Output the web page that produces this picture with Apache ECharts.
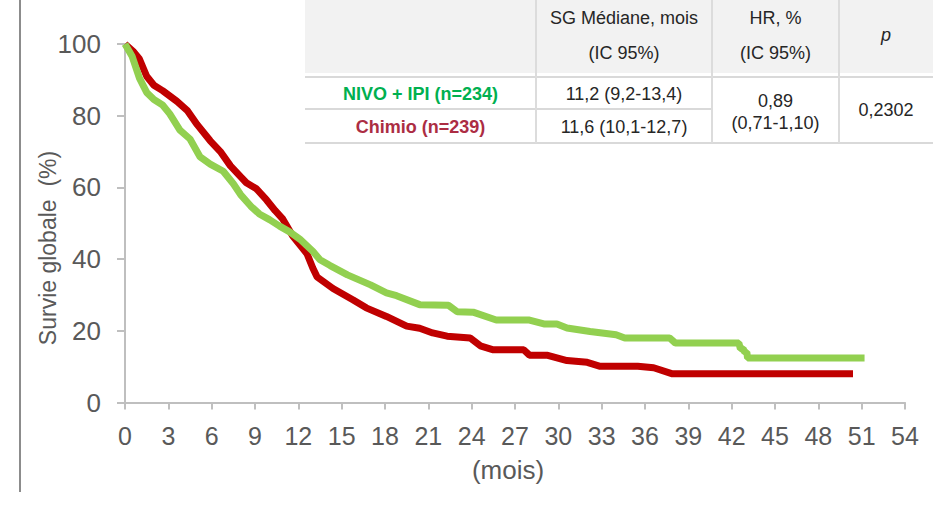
<!DOCTYPE html>
<html>
<head>
<meta charset="utf-8">
<script src="https://cdn.jsdelivr.net/npm/echarts@6/dist/echarts.min.js"></script>
<style>
  html, body { margin: 0; padding: 0; background: #ffffff; }
  #chart { width: 933px; height: 508px; }
</style>
</head>
<body>
<div id="chart"></div>
<script>
// Overall survival (%) by month, one [month, survival] pair per point
const nivoIpi = [
  [0, 100], [0.5, 96.5], [1.0, 90.5], [1.5, 86.5], [2.0, 84.5], [2.6, 83], [3.1, 80.5],
  [3.8, 76], [4.5, 73.5], [5.2, 68.5], [5.9, 66.5], [6.8, 64.5], [7.5, 61], [8.0, 58],
  [8.7, 54.8], [9.3, 52.6], [10.0, 51], [10.7, 49.2], [11.4, 47.6], [12.1, 45.6],
  [13.0, 42.2], [13.5, 39.8], [14.2, 38.2], [15.4, 35.6], [17.0, 32.8], [18.1, 30.6],
  [18.8, 29.8], [20.4, 27.3], [22.4, 27.1], [23.0, 25.3], [24.1, 25.2], [25.7, 23],
  [28.0, 23], [29.0, 21.9], [29.9, 21.9], [30.6, 20.8], [32.2, 19.8], [34.0, 18.9],
  [34.6, 18], [37.7, 18], [38.1, 16.6], [42.5, 16.6], [42.6, 15], [42.8, 15],
  [42.9, 14], [43.05, 14], [43.1, 12.4], [51.2, 12.4]
];

const chimio = [
  [0, 100], [0.6, 97.8], [1.0, 95.8], [1.5, 91], [2.0, 88.5], [2.6, 87], [3.6, 84],
  [4.3, 81.5], [5.0, 77.5], [5.9, 73], [6.6, 70], [7.3, 66], [8.0, 63], [8.4, 61.3],
  [9.1, 59.6], [9.8, 56.5], [10.4, 53.5], [10.9, 51.3], [11.6, 46.5], [12.3, 43],
  [12.6, 41.5], [13.0, 37.5], [13.3, 35], [14.4, 31.8], [15.8, 28.6], [16.7, 26.4],
  [18.1, 24], [19.5, 21.3], [20.4, 20.7], [21.3, 19.4], [22.3, 18.5], [23.9, 18],
  [24.6, 15.8], [25.5, 14.7], [27.6, 14.7], [28.0, 13.2], [29.2, 13.2], [30.6, 11.7],
  [32.0, 11.2], [32.9, 10.1], [35.5, 10.1], [36.6, 9.7], [37.9, 8], [50.4, 8]
];

// Axis ticks and titles
const monthTicks = [0, 54, 3];    // min, max, step
const survivalTicks = [0, 100, 20];
const monthTitle = '(mois)';
const survivalTitle = 'Survie globale  (%)';

// Summary table text
const tableHeader = [
  ['', ''],
  ['SG Médiane, mois', '(IC 95%)'],
  ['HR, %', '(IC 95%)'],
  ['p']
];
const armLabels = ['NIVO + IPI (n=234)', 'Chimio (n=239)'];
const armMedians = ['11,2 (9,2-13,4)', '11,6 (10,1-12,7)'];
const hazardRatio = ['0,89', '(0,71-1,10)'];
const pValue = '0,2302';

const GREEN = '#92d050';
const RED = '#c00000';
const AXIS_GRAY = '#bfbfbf';
const TEXT_GRAY = '#595959';
const FONT = '"Liberation Sans", Arial, sans-serif';
const TABLE_FONT_SIZE = 18;

// Table layout
const colX = [305, 536, 712, 839, 933];
const headerBottom = 73;
const rowY = [77, 109, 143];
const cellCenter = i => (colX[i] + colX[i + 1]) / 2;

function tableText(text, x, y, extra) {
  return {
    type: 'text', z: 20,
    style: Object.assign({
      text: text, x: x, y: y,
      fill: '#262626', font: TABLE_FONT_SIZE + 'px ' + FONT,
      align: 'center', verticalAlign: 'middle'
    }, extra || {})
  };
}

const graphics = [];
// frame line on the left
graphics.push({ type: 'line', z: 5, shape: { x1: 20, y1: 0, x2: 20, y2: 492 },
  style: { stroke: '#8c8c8c', lineWidth: 2 } });
// axis titles
graphics.push({ type: 'text', z: 5, x: 48, y: 248, rotation: Math.PI / 2,
  style: { text: survivalTitle, fill: TEXT_GRAY, font: '23px ' + FONT, align: 'center', verticalAlign: 'middle' } });
graphics.push({ type: 'text', z: 5, x: 508, y: 470,
  style: { text: monthTitle, fill: TEXT_GRAY, font: '26px ' + FONT, align: 'center', verticalAlign: 'middle' } });
// header background
graphics.push({ type: 'rect', z: 10, shape: { x: colX[0], y: 0, width: colX[4] - colX[0], height: headerBottom },
  style: { fill: '#f2f2f2' } });
// body background
graphics.push({ type: 'rect', z: 10, shape: { x: colX[0], y: headerBottom, width: colX[4] - colX[0], height: rowY[2] - headerBottom },
  style: { fill: '#ffffff' } });
// horizontal rules
graphics.push({ type: 'line', z: 11, shape: { x1: colX[0], y1: rowY[0], x2: colX[4], y2: rowY[0] }, style: { stroke: '#d9d9d9', lineWidth: 2 } });
graphics.push({ type: 'line', z: 11, shape: { x1: colX[0], y1: rowY[1], x2: colX[2], y2: rowY[1] }, style: { stroke: '#d9d9d9', lineWidth: 2 } });
graphics.push({ type: 'line', z: 11, shape: { x1: colX[0], y1: rowY[2], x2: colX[4], y2: rowY[2] }, style: { stroke: '#d9d9d9', lineWidth: 2 } });
// vertical rules
for (let i = 1; i <= 3; i++) {
  graphics.push({ type: 'line', z: 11, shape: { x1: colX[i], y1: 0, x2: colX[i], y2: rowY[2] }, style: { stroke: '#dcdcdc', lineWidth: 2 } });
}
// header text
graphics.push(tableText(tableHeader[1][0], cellCenter(1), 18));
graphics.push(tableText(tableHeader[1][1], cellCenter(1), 53));
graphics.push(tableText(tableHeader[2][0], cellCenter(2), 18));
graphics.push(tableText(tableHeader[2][1], cellCenter(2), 53));
graphics.push(tableText(tableHeader[3][0], cellCenter(3), 35, { font: 'italic ' + TABLE_FONT_SIZE + 'px ' + FONT }));
// body text
graphics.push(tableText(armLabels[0], cellCenter(0), 94, { fill: '#00b050', font: 'bold ' + TABLE_FONT_SIZE + 'px ' + FONT }));
graphics.push(tableText(armLabels[1], cellCenter(0), 127, { fill: '#ac2d43', font: 'bold ' + TABLE_FONT_SIZE + 'px ' + FONT }));
graphics.push(tableText(armMedians[0], cellCenter(1), 94));
graphics.push(tableText(armMedians[1], cellCenter(1), 127));
graphics.push(tableText(hazardRatio[0], cellCenter(2), 101));
graphics.push(tableText(hazardRatio[1], cellCenter(2), 123));
graphics.push(tableText(pValue, cellCenter(3), 110));

const chart = echarts.init(document.getElementById('chart'), null, { renderer: 'svg' });

chart.setOption({
  animation: false,
  backgroundColor: '#ffffff',
  grid: { left: 125, right: 28, top: 44, bottom: 105.5, containLabel: false },
  xAxis: {
    type: 'value',
    min: monthTicks[0], max: monthTicks[1], interval: monthTicks[2],
    axisLine: { show: true, lineStyle: { color: AXIS_GRAY, width: 2 } },
    axisTick: { show: true, length: 7, lineStyle: { color: AXIS_GRAY, width: 2 } },
    axisLabel: { color: TEXT_GRAY, fontSize: 25, fontFamily: FONT, margin: 21 },
    splitLine: { show: false }
  },
  yAxis: {
    type: 'value',
    min: survivalTicks[0], max: survivalTicks[1], interval: survivalTicks[2],
    axisLine: { show: true, lineStyle: { color: AXIS_GRAY, width: 2 } },
    axisTick: { show: true, length: 8, lineStyle: { color: AXIS_GRAY, width: 2 } },
    axisLabel: { color: TEXT_GRAY, fontSize: 26, fontFamily: FONT, margin: 24 },
    splitLine: { show: false }
  },
  series: [
    {
      name: 'Chimio', type: 'line', data: chimio, showSymbol: false, symbol: 'none',
      lineStyle: { color: RED, width: 7 }, z: 3
    },
    {
      name: 'NIVO + IPI', type: 'line', data: nivoIpi, showSymbol: false, symbol: 'none',
      lineStyle: { color: GREEN, width: 7 }, z: 4
    }
  ],
  graphic: graphics
});
</script>
</body>
</html>
